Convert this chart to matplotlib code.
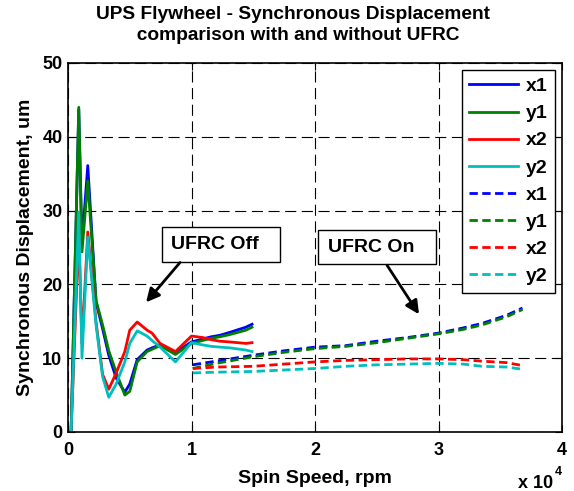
import matplotlib
matplotlib.use('Agg')
import matplotlib.pyplot as plt
from matplotlib.patches import Rectangle

plt.rcParams['font.family'] = ['Liberation Sans', 'DejaVu Sans']
plt.rcParams['font.weight'] = 'bold'

# UFRC off (solid lines), spin speed in rpm
x_off = [250, 870, 1130, 1600, 2270, 2800, 3300, 3900, 4600, 5000, 5600, 6400, 6800, 7450,
         8700, 10000, 10900, 11600, 12300, 13100, 14400, 14900]
x1_off = [0, 43.7, 25.5, 36.1, 17.6, 14.0, 10.4, 7.3, 5.4, 6.5, 9.8, 11.1, 11.4, 11.8,
          10.8, 12.2, 12.6, 12.9, 13.1, 13.5, 14.2, 14.6]
y1_off = [0, 44.0, 24.4, 34.0, 17.8, 14.5, 11.0, 8.1, 5.0, 5.5, 9.5, 10.9, 11.2, 11.7,
          10.5, 12.0, 12.4, 12.7, 12.9, 13.2, 13.8, 14.2]
x2_off = [0, 27.0, 12.0, 27.1, 14.9, 7.8, 5.8, 8.0, 10.9, 13.8, 14.9, 13.8, 13.4, 12.0,
          10.9, 13.0, 12.8, 12.5, 12.3, 12.2, 12.0, 12.1]
y2_off = [0, 29.8, 10.0, 26.4, 14.5, 7.5, 4.7, 6.5, 9.5, 12.0, 13.7, 13.0, 12.4, 11.5,
          9.5, 12.1, 11.8, 11.6, 11.5, 11.4, 11.1, 10.9]

# UFRC on (dashed lines)
x_on = [10100, 12000, 15000, 17500, 20000, 22500, 25000, 27500, 30000, 32000, 33500, 35500, 36800]
x1_on = [9.1, 9.6, 10.4, 11.0, 11.5, 11.7, 12.3, 12.8, 13.4, 14.1, 14.7, 15.8, 16.8]
y1_on = [8.6, 9.3, 10.2, 10.8, 11.3, 11.6, 12.1, 12.7, 13.3, 13.9, 14.5, 15.6, 16.6]
x2_on = [8.6, 8.8, 8.9, 9.2, 9.5, 9.7, 9.8, 9.9, 9.9, 9.8, 9.6, 9.4, 9.0]
y2_on = [8.0, 8.1, 8.2, 8.4, 8.6, 8.9, 9.1, 9.2, 9.3, 9.2, 8.9, 8.8, 8.5]

labels = ['x1', 'y1', 'x2', 'y2']
colors = ['#0000ff', '#008000', '#ff0000', '#00bfbf']

fig = plt.figure(figsize=(5.74, 4.91), dpi=100)
ax = fig.add_axes([0.1185, 0.1202, 0.8606, 0.7515])

for ys, c, lab in zip([x1_off, y1_off, x2_off, y2_off], colors, labels):
    ax.plot(x_off, ys, color=c, lw=2, label=lab)
for ys, c, lab in zip([x1_on, y1_on, x2_on, y2_on], colors, labels):
    ax.plot(x_on, ys, color=c, lw=2, ls=(0, (3, 1.6)), label=lab)

ax.set_xlim(0, 40000)
ax.set_ylim(0, 50)
ax.set_xticks([0, 10000, 20000, 30000, 40000])
ax.set_xticklabels(['0', '1', '2', '3', '4'])
ax.set_yticks([0, 10, 20, 30, 40, 50])
ax.tick_params(direction='in', top=True, right=True, labelsize=13, length=5)
ax.tick_params(axis='x', pad=7)
ax.tick_params(axis='y', pad=4)
for lbl in ax.get_xticklabels() + ax.get_yticklabels():
    lbl.set_fontweight('bold')
ax.grid(True, color='black', ls=(0, (10, 5)), lw=0.8)
for s in ax.spines.values():
    s.set_linewidth(1.2)

ax.set_xlabel('Spin Speed, rpm', fontsize=14, fontweight='bold', labelpad=8)
ax.set_ylabel('Synchronous Displacement, um', fontsize=14, fontweight='bold', labelpad=6)
fig.text(0.51, 0.988, 'UPS Flywheel - Synchronous Displacement\n  comparison with and without UFRC',
         fontsize=13.8, fontweight='bold', ha='center', va='top', linespacing=1.3)
fig.text(0.963, 0.006, 'x 10', fontsize=13, fontweight='bold', ha='right', va='baseline')
fig.text(0.967, 0.032, '4', fontsize=9, fontweight='bold', ha='left', va='baseline')

leg = ax.legend(loc='upper right', fontsize=14, handlelength=2.5, labelspacing=0.49,
                handletextpad=0.4, borderpad=0.4, fancybox=False, edgecolor='black',
                framealpha=1, borderaxespad=0.35)
leg.get_frame().set_linewidth(1)
for t in leg.get_texts():
    t.set_fontweight('bold')

# annotation boxes and arrows
ax.add_patch(Rectangle((7610, 22.97), 9560, 4.87, fc='white', ec='black', lw=1, zorder=5))
ax.text(8340, 25.4, 'UFRC Off', fontsize=14, fontweight='bold', ha='left', va='center', zorder=6)
ax.add_patch(Rectangle((20240, 22.7), 9560, 4.7, fc='white', ec='black', lw=1, zorder=5))
ax.text(21050, 25.0, 'UFRC On', fontsize=14, fontweight='bold', ha='left', va='center', zorder=6)

arr = dict(arrowstyle='-|>', color='black', lw=2, mutation_scale=20, shrinkA=0, shrinkB=0)
ax.annotate('', xy=(6320, 17.57), xytext=(9070, 22.97), arrowprops=arr, zorder=6)
ax.annotate('', xy=(28420, 15.95), xytext=(25830, 22.6), arrowprops=arr, zorder=6)

fig.savefig('out.png', dpi=100)
